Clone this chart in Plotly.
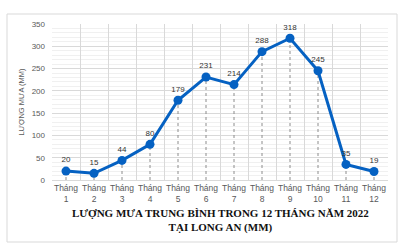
import plotly.graph_objects as go

months = [f"Tháng<br>{i}" for i in range(1, 13)]
rain = [20, 15, 44, 80, 179, 231, 214, 288, 318, 245, 35, 19]
y_ticks = [0, 50, 100, 150, 200, 250, 300, 350]

drop_x, drop_y = [], []
for m, v in zip(months, rain):
    drop_x += [m, m, None]
    drop_y += [0, v, None]

fig = go.Figure()
fig.add_trace(go.Scatter(x=drop_x, y=drop_y, mode="lines",
                         line=dict(color="#8c8c8c", width=1, dash="dot"),
                         hoverinfo="skip", showlegend=False))
fig.add_trace(go.Scatter(x=months, y=rain, mode="lines+markers+text",
                         line=dict(color="#0561c2", width=3),
                         marker=dict(color="#0561c2", size=9),
                         text=[str(v) for v in rain], textposition="top center",
                         textfont=dict(family="Liberation Sans, Arial", size=8, color="#333333"),
                         showlegend=False))

L, R, T, B = 52, 388, 24, 180
W, H = 420, 245
def px(x): return (x - L) / (R - L)
def py(y): return (B - y) / (B - T)

fig.update_layout(
    width=W, height=H,
    margin=dict(l=L, r=W - R, t=T, b=H - B),
    paper_bgcolor="white", plot_bgcolor="white",
    font=dict(family="Liberation Sans, Arial", size=8, color="#595959"),
    xaxis=dict(type="category", tickson="boundaries", showgrid=True,
               gridcolor="#d9d9d9", gridwidth=1, ticks="", showline=True,
               linecolor="#d9d9d9", mirror=False, zeroline=False, tickangle=0,
               automargin=False,
               tickfont=dict(size=8.5, color="#595959"), range=[-0.5, 11.5]),
    yaxis=dict(range=[0, 350], tickvals=y_ticks, showgrid=True,
               gridcolor="#d9d9d9", gridwidth=1, zeroline=False, automargin=False,
               showline=False, ticks="", ticklabelstandoff=6,
               tickfont=dict(size=8, color="#595959"),
               minor=dict(dtick=10, showgrid=True, gridcolor="#f0f0f0", gridwidth=1),
               title=dict(text="LƯỢNG MƯA (MM)", font=dict(size=7.5, color="#595959"),
                          standoff=6)),
    shapes=[dict(type="rect", xref="paper", yref="paper",
                 x0=px(7), x1=px(397), y0=py(242), y1=py(14),
                 line=dict(color="#d9d9d9", width=1), layer="below")],
    annotations=[dict(xref="paper", yref="paper", x=0.5, y=py(220),
                      text="<b>LƯỢNG MƯA TRUNG BÌNH TRONG 12 THÁNG NĂM 2022<br>TẠI LONG AN (MM)</b>",
                      showarrow=False, xanchor="center", yanchor="middle",
                      font=dict(family="Liberation Serif, Times New Roman", size=11, color="#111111"))],
)
fig.write_html("out.html")
